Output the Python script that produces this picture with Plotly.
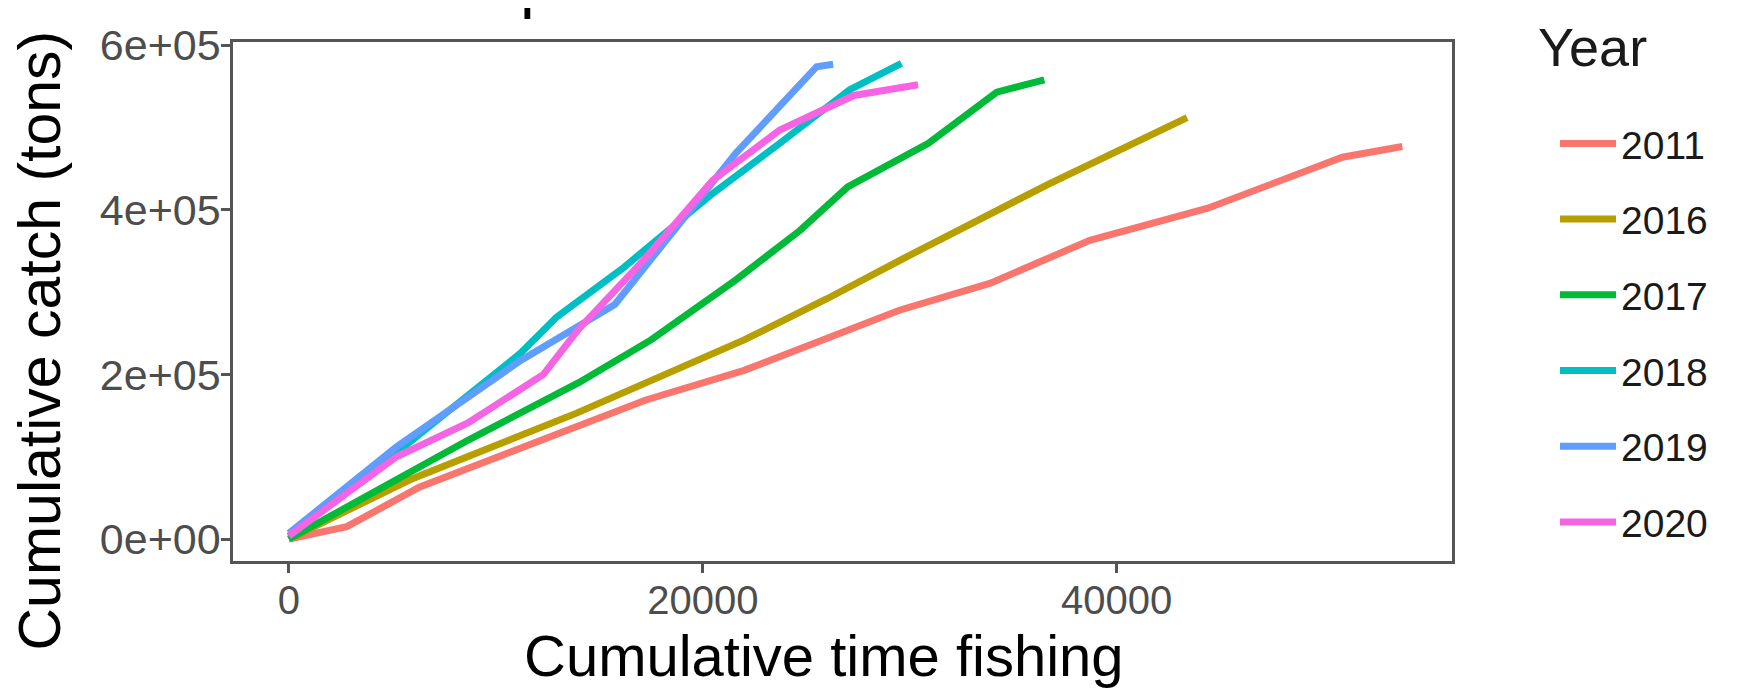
import plotly.graph_objects as go

years = ["2011", "2016", "2017", "2018", "2019", "2020"]
colors = ["#F8766D", "#B79F00", "#00BA38", "#00BFC4", "#619CFF", "#F564E3"]

x_2011 = [0, 2800, 6300, 12000, 17250, 22000, 29500, 33900, 38700, 44400, 50900, 53800]
y_2011 = [0, 15000, 63000, 118000, 169000, 205000, 278000, 311000, 363000, 402000, 464000, 477000]

x_2016 = [0, 5850, 13900, 22000, 26000, 29850, 36760, 43400]
y_2016 = [0, 72000, 153000, 242000, 292000, 343000, 432000, 512000]

x_2017 = [0, 8650, 14000, 17500, 21600, 24700, 27000, 30900, 34200, 36500]
y_2017 = [0, 120000, 190000, 242000, 315000, 375000, 428000, 481000, 543000, 558000]

x_2018 = [0, 5200, 11200, 12950, 16180, 20480, 23720, 27100, 29600]
y_2018 = [3000, 105000, 226000, 270000, 330000, 420000, 481000, 546000, 578000]

x_2019 = [0, 5200, 11200, 15750, 21600, 25500, 26300]
y_2019 = [7000, 112000, 217000, 285000, 469000, 574000, 577000]

x_2020 = [0, 5200, 8650, 12300, 14000, 17250, 20480, 23720, 27300, 30400]
y_2020 = [4000, 100000, 141000, 200000, 255000, 342000, 436000, 497000, 539000, 552000]

xs = [x_2011, x_2016, x_2017, x_2018, x_2019, x_2020]
ys = [y_2011, y_2016, y_2017, y_2018, y_2019, y_2020]

x_tickvals = [0, 20000, 40000]
x_ticktext = ["0", "20000", "40000"]
y_tickvals = [0, 200000, 400000, 600000]
y_ticktext = ["0e+00", "2e+05", "4e+05", "6e+05"]

title_text = "A season pollock"
x_title = "Cumulative time fishing"
y_title = "Cumulative catch (tons)"
legend_title = "Year"

FONT = "Liberation Sans, Arial, sans-serif"

fig = go.Figure()
for yr, c, xv, yv in zip(years, colors, xs, ys):
    fig.add_trace(go.Scatter(
        x=xv, y=yv, mode="lines", name=yr, legendgroup=yr,
        line=dict(color=c, width=7),
    ))

axis_common = dict(
    showgrid=False, zeroline=False,
    showline=True, linecolor="#555555", linewidth=2.5, mirror=True,
    ticks="outside", ticklen=9, tickwidth=2.5, tickcolor="#555555",
)

W, H = 1750, 687
ML, MR, MT, MB = 225, 306, 34, 134

fig.update_layout(
    width=W, height=H,
    paper_bgcolor="white", plot_bgcolor="white",
    margin=dict(l=ML, r=MR, t=MT, b=MB, pad=0),
    font=dict(family=FONT),
    xaxis=dict(range=[-2700, 56200], tickvals=x_tickvals, ticktext=x_ticktext,
               ticklabelstandoff=-7,
               tickfont=dict(family=FONT, size=40, color="#4D4D4D"), **axis_common),
    yaxis=dict(range=[-26700, 604000], tickvals=y_tickvals, ticktext=y_ticktext,
               ticklabelstandoff=-8,
               tickfont=dict(family=FONT, size=43, color="#4D4D4D"), **axis_common),
    showlegend=True,
    legend=dict(
        font=dict(family=FONT, size=39, color="#1A1A1A"),
        x=1.0845, xanchor="left", y=0.866, yanchor="top",
        tracegroupgap=22, itemwidth=56, bgcolor="rgba(0,0,0,0)",
    ),
    annotations=[
        dict(text=x_title, xref="paper", yref="paper", x=0.5, y=0, yanchor="middle",
             xshift=-19, yshift=-94, showarrow=False,
             font=dict(family=FONT, size=58, color="black")),
        dict(text=y_title, xref="paper", yref="paper", x=0, y=0.5, xanchor="center",
             yanchor="middle", xshift=-194, yshift=-39, textangle=-90, showarrow=False,
             font=dict(family=FONT, size=59, color="black")),
        dict(text=title_text, xref="paper", yref="paper", x=0, y=1, xanchor="left",
             yanchor="bottom", yshift=21, xshift=-5, showarrow=False,
             font=dict(family=FONT, size=66, color="black")),
        dict(text=legend_title, xref="paper", yref="paper", x=1, y=1, xanchor="left",
             yanchor="middle", xshift=84, yshift=-5, showarrow=False,
             font=dict(family=FONT, size=54, color="#1A1A1A")),
    ],
)
try:
    fig.update_layout(legend_maxheight=600)
except Exception:
    pass

fig.write_html("out.html")
